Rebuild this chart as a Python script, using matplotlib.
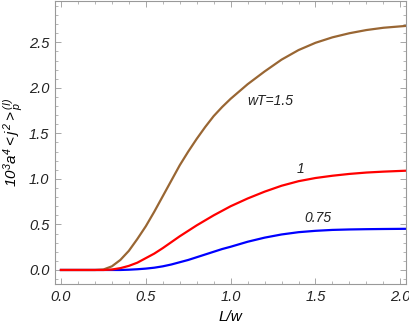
import matplotlib.pyplot as plt
from matplotlib.ticker import MultipleLocator

plt.rcParams['font.family'] = 'Liberation Sans'
plt.rcParams['font.style'] = 'italic'
plt.rcParams['mathtext.fontset'] = 'custom'
plt.rcParams['mathtext.rm'] = 'Liberation Sans:italic'
plt.rcParams['mathtext.it'] = 'Liberation Sans:italic'

# values (L/w -> 10^3 a^4 <j^2>)
L_w = [0.0, 0.2, 0.25, 0.3, 0.35, 0.4, 0.45, 0.5, 0.55, 0.6, 0.65, 0.7, 0.75, 0.8, 0.85,
       0.9, 0.95, 1.0, 1.1, 1.2, 1.3, 1.4, 1.5, 1.6, 1.7, 1.8, 1.9, 2.03]

# wT = 1.5
j_brown = [0.0, 0.0, 0.005, 0.04, 0.11, 0.21, 0.34, 0.48, 0.64, 0.81, 0.98, 1.15, 1.30, 1.44,
           1.57, 1.69, 1.79, 1.88, 2.04, 2.18, 2.31, 2.415, 2.495, 2.555, 2.60, 2.635, 2.66,
           2.68]
# wT = 1
j_red = [0.0, 0.0, 0.0, 0.005, 0.02, 0.045, 0.08, 0.13, 0.18, 0.24, 0.305, 0.37, 0.43, 0.49,
         0.545, 0.60, 0.65, 0.70, 0.785, 0.86, 0.925, 0.975, 1.01, 1.035, 1.055, 1.07, 1.08,
         1.09]
# wT = 0.75
j_blue = [0.0, 0.0, 0.0, 0.0, 0.0, 0.003, 0.008, 0.015, 0.025, 0.04, 0.06, 0.085, 0.11, 0.14,
          0.17, 0.20, 0.23, 0.255, 0.31, 0.355, 0.39, 0.415, 0.43, 0.44, 0.445, 0.448, 0.45,
          0.452]

labels = ['wT=1.5', '1', '0.75']
label_pos = [(1.235, 1.86), (1.414, 1.107), (1.516, 0.568)]

fig = plt.figure(figsize=(4.09, 3.27), dpi=100)
ax = fig.add_axes([0.1345, 0.1315, 0.858, 0.866])

ax.plot(L_w, j_blue, color='#0000FF', lw=1.6)
ax.plot(L_w, j_brown, color='#996633', lw=1.6)
ax.plot(L_w, j_red, color='#FF0000', lw=1.6)

for lab, (tx, ty) in zip(labels, label_pos):
    ax.text(tx, ty, lab, fontsize=10, ha='center', va='center', color='#222222')

ax.set_xlim(-0.035, 2.033)
ax.set_ylim(-0.154, 2.956)
ax.xaxis.set_major_locator(MultipleLocator(0.5))
ax.xaxis.set_minor_locator(MultipleLocator(0.1))
ax.yaxis.set_major_locator(MultipleLocator(0.5))
ax.yaxis.set_minor_locator(MultipleLocator(0.1))
ax.xaxis.set_major_formatter(plt.FormatStrFormatter('%.1f'))
ax.yaxis.set_major_formatter(plt.FormatStrFormatter('%.1f'))

for s in ax.spines.values():
    s.set_color('#999999')
    s.set_linewidth(0.8)
ax.tick_params(which='both', direction='in', top=True, right=True, colors='#999999',
               labelcolor='#222222', labelsize=10.5)
ax.tick_params(which='major', length=4.5, width=0.6, pad=4)
ax.tick_params(which='minor', length=2.5, width=0.5)

ax.set_xlabel('L/w', fontsize=11, labelpad=5)
ax.set_ylabel(r'$10^3 a^4 {<} j^2 {>}_p^{(I)}$', fontsize=11, labelpad=3)

fig.savefig('out.png', dpi=100)
